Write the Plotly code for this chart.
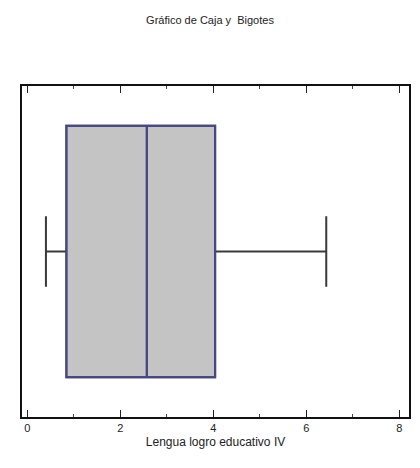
import plotly.graph_objects as go

# Five-number summary for the variable
variable_name = ["Lengua logro educativo IV"]
lower_fence = [0.40]
q1 = [0.84]
median = [2.57]
q3 = [4.04]
upper_fence = [6.43]

tick_values = [0, 2, 4, 6, 8]
tick_labels = ["0", "2", "4", "6", "8"]

fig = go.Figure()

# Whiskers and filled box in dark grey
fig.add_trace(go.Box(
    y=[0],
    q1=q1,
    median=median,
    q3=q3,
    lowerfence=lower_fence,
    upperfence=upper_fence,
    orientation="h",
    width=0.76,
    whiskerwidth=0.28,
    fillcolor="#c4c4c4",
    line=dict(color="#3a3a3a", width=2),
    boxpoints=False,
    hoverinfo="skip",
    showlegend=False,
))

# Box outline and median in blue-violet, drawn on top
fig.add_trace(go.Box(
    y=[0],
    q1=q1,
    median=median,
    q3=q3,
    lowerfence=q1,
    upperfence=q3,
    orientation="h",
    width=0.76,
    whiskerwidth=0,
    fillcolor="rgba(0,0,0,0)",
    line=dict(color="#46468a", width=2),
    boxpoints=False,
    hoverinfo="skip",
    showlegend=False,
))

fig.update_layout(
    width=420,
    height=468,
    paper_bgcolor="white",
    plot_bgcolor="white",
    boxmode="overlay",
    margin=dict(l=22, r=9, t=86, b=51),
    title=dict(
        text="Gráfico de Caja y  Bigotes",
        x=0.5, xanchor="center",
        y=1 - 20 / 468, yanchor="middle",
        font=dict(family="Liberation Sans, Arial", size=11, color="#222222"),
    ),
    font=dict(family="Liberation Sans, Arial", color="#111111"),
    xaxis=dict(
        range=[-0.115, 8.21],
        tickvals=tick_values,
        ticktext=tick_labels,
        ticks="inside",
        ticklen=7,
        tickwidth=1,
        tickcolor="#222222",
        minor=dict(dtick=1, ticks="inside", ticklen=3, tickcolor="#444444"),
        showgrid=False,
        zeroline=False,
        showline=True,
        linecolor="#111111",
        linewidth=1.5,
        mirror="ticks",
        tickfont=dict(size=11, color="#222222"),
        title=dict(text=variable_name[0], font=dict(size=12, color="#222222"), standoff=5),
    ),
    yaxis=dict(
        range=[-0.5, 0.5],
        showticklabels=False,
        ticks="",
        showgrid=False,
        zeroline=False,
        showline=True,
        linecolor="#111111",
        linewidth=1.5,
        mirror=True,
    ),
)

fig.write_html("out.html")
